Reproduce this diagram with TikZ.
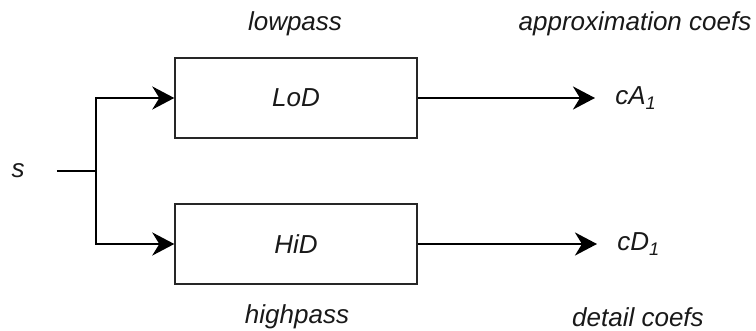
\documentclass[tikz,border=0pt]{standalone}
\usepackage{fontspec}
\setmainfont{Liberation Sans}
\usetikzlibrary{arrows.meta}
\tikzset{
  filt/.style={draw=black!85, line width=0.7pt, minimum width=121pt, minimum height=40pt, inner sep=0pt, text=black!90, font=\fontsize{13}{15}\selectfont\itshape},
  lbl/.style={inner sep=0pt, text=black!90, font=\fontsize{13}{15}\selectfont\itshape},
  wire/.style={line width=1.35pt},
  flow/.style={wire, -{Stealth[length=11pt, width=11.5pt, inset=3.5pt]}},
}
\begin{document}
\begin{tikzpicture}[x=0.5pt, y=-0.5pt]
    \useasboundingbox (0,0) rectangle (756,331);
    \node[lbl] (sig) at (18,171) {s};
    \coordinate (split) at (96,171);
    \node[filt] (lod) at (296,98) {LoD};
    \node[filt] (hid) at (296,244) {HiD};
    \node[lbl, anchor=west] (ca) at (615,98) {cA\textsubscript{1}};
    \node[lbl, anchor=west] (cd) at (617,244) {cD\textsubscript{1}};
    \node[lbl] (lowp) at (295,24) {lowpass};
    \node[lbl] (highp) at (297,317) {highpass};
    \node[lbl] (appr) at (635,24) {approximation coefs};
    \node[lbl] (detl) at (638,317) {detail coefs};
    \draw[wire] ([xshift=16pt]sig.east) -- (split);
    \draw[flow] (split) |- (lod.west);
    \draw[flow] (split) |- (hid.west);
    \draw[flow, shorten >=10pt] (lod.east) -- (ca.west);
    \draw[flow, shorten >=10pt] (hid.east) -- (cd.west);
  \end{tikzpicture}
\end{document}
